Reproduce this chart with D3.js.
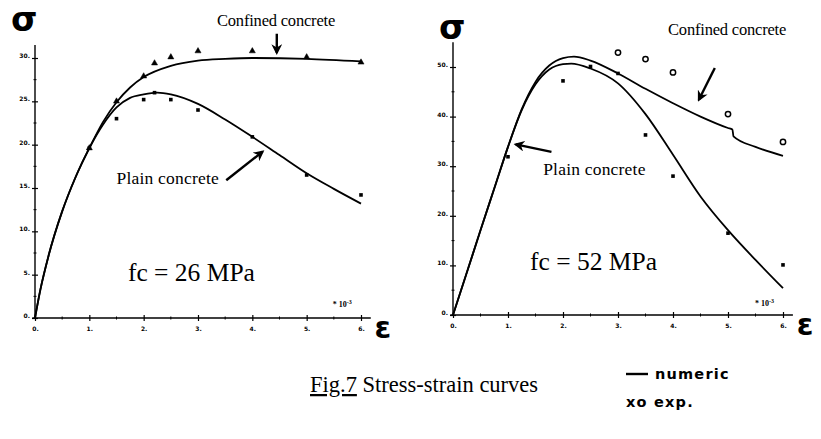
<!DOCTYPE html>
<html>
<head>
<meta charset="utf-8">
<script src="https://cdn.jsdelivr.net/npm/d3@7"></script>
<style>
  body { margin: 0; background: #fff; }
  svg { display: block; }
  .tick text { font-family: 'DejaVu Sans', sans-serif; font-weight: bold; font-size: 6px; }
  .note { font-family: 'Liberation Serif', serif; fill: #000; }
  .hand { font-family: 'DejaVu Sans', sans-serif; font-weight: bold; fill: #000; }
</style>
</head>
<body>
<script>
// strain in 10^-3, stress in MPa
const strainTicks = [0, 1, 2, 3, 4, 5, 6]
const strainMinor = [0.5, 1.5, 2.5, 3.5, 4.5, 5.5]
const stressTicks26 = [0, 5, 10, 15, 20, 25, 30]
const stressTicks52 = [0, 10, 20, 30, 40, 50]

// fc = 26 MPa, numeric curves
const num26Confined = [[0, 0], [0.1, 3.3], [0.25, 7.2], [0.5, 12.3], [0.75, 16.3], [1.0, 19.6], [1.25, 22.6], [1.5, 24.9], [1.75, 26.6], [2.0, 27.8], [2.5, 29.1], [3.0, 29.7], [3.5, 29.9], [4.0, 30.0], [5.0, 29.9], [6.0, 29.6]]
const num26Plain = [[0, 0], [0.1, 3.3], [0.25, 7.2], [0.5, 12.3], [0.75, 16.3], [1.0, 19.6], [1.25, 22.3], [1.5, 24.3], [1.75, 25.4], [2.0, 25.8], [2.25, 26.0], [2.5, 25.8], [3.0, 24.7], [3.5, 22.9], [4.0, 20.9], [4.5, 18.8], [5.0, 16.7], [5.5, 14.9], [6.0, 13.2]]
// fc = 26 MPa, experiments
const exp26Confined = [[1.0, 19.6], [1.5, 25.0], [2.0, 27.9], [2.2, 29.4], [2.5, 30.1], [3.0, 30.8], [4.0, 30.8], [5.0, 30.1], [6.0, 29.5]]
const exp26Plain = [[1.0, 19.6], [1.5, 23.0], [2.0, 25.2], [2.2, 26.0], [2.5, 25.2], [3.0, 24.0], [4.0, 20.9], [5.0, 16.5], [6.0, 14.2]]

// fc = 52 MPa, numeric curves
const num52Confined = [[0, 0], [0.25, 8.5], [0.5, 17.1], [0.75, 25.5], [1.0, 33.9], [1.25, 41.5], [1.5, 47.0], [1.75, 50.3], [2.0, 51.8], [2.2, 52.1], [2.5, 51.3], [3.0, 48.7], [3.5, 45.6], [4.0, 42.7], [4.5, 40.0], [5.0, 37.7], [5.08, 37.4], [5.1, 36.0], [5.5, 33.9], [6.0, 32.1]]
const num52Plain = [[0, 0], [0.25, 8.5], [0.5, 17.1], [0.75, 25.5], [1.0, 33.9], [1.25, 41.3], [1.5, 46.5], [1.75, 49.5], [2.0, 50.6], [2.15, 50.7], [2.5, 49.7], [3.0, 46.7], [3.5, 40.5], [4.0, 32.3], [4.5, 23.9], [5.0, 17.1], [5.5, 11.1], [6.0, 5.4]]
// fc = 52 MPa, experiments
const exp52Confined = [[3.0, 52.9], [3.5, 51.6], [4.0, 48.9], [5.0, 40.5], [6.0, 34.9]]
const exp52Plain = [[1.0, 31.9], [2.0, 47.2], [2.5, 50.1], [3.0, 48.7], [3.5, 36.3], [4.0, 28.0], [5.0, 16.5], [6.0, 10.1]]

const W = 821, H = 439

const svg = d3.select('body').append('svg')
  .attr('width', W)
  .attr('height', H)

svg.append('defs').append('marker')
  .attr('id', 'head')
  .attr('viewBox', '0 0 10 10')
  .attr('refX', 8)
  .attr('refY', 5)
  .attr('markerWidth', 4.5)
  .attr('markerHeight', 4.5)
  .attr('orient', 'auto')
  .append('path')
  .attr('d', 'M0,0 L10,5 L0,10 L3,5 Z')
  .attr('fill', '#000')

function panel (o) {
  let x = d3.scaleLinear().domain([0, 6]).range(o.xRange)
  let y = d3.scaleLinear().domain([0, o.yMax]).range(o.yRange)
  let g = svg.append('g')

  // axes
  let xAxis = g.append('g')
    .attr('transform', `translate(0,${y(0)})`)
    .call(d3.axisBottom(x).tickValues(strainTicks).tickSize(3).tickPadding(6).tickFormat(d => d + '.'))
  xAxis.select('.domain').remove()
  xAxis.selectAll('.tick line').attr('y1', -3).attr('stroke-width', 1.2)

  let yAxis = g.append('g')
    .attr('transform', `translate(${x(0)},0)`)
    .call(d3.axisLeft(y).tickValues(o.yTicks).tickSize(3).tickPadding(2).tickFormat(d => d + '.'))
  yAxis.select('.domain').remove()
  yAxis.selectAll('.tick line').attr('x1', 3).attr('stroke-width', 1.2)
  yAxis.selectAll('.tick text').attr('dy', '-0.1em')

  g.append('line')
    .attr('x1', x(-0.05)).attr('x2', x(6.18))
    .attr('y1', y(0)).attr('y2', y(0))
    .attr('stroke', '#000').attr('stroke-width', 1.4)
  g.append('line')
    .attr('x1', x(0)).attr('x2', x(0))
    .attr('y1', y(-0.1)).attr('y2', y(o.yTop))
    .attr('stroke', '#000').attr('stroke-width', 1.4)

  g.selectAll('.xminor')
    .data(strainMinor)
    .join('line')
    .attr('x1', d => x(d)).attr('x2', d => x(d))
    .attr('y1', y(0) - 1.5).attr('y2', y(0) + 1.5)
    .attr('stroke', '#000')
  g.selectAll('.yminor')
    .data(o.yMinor)
    .join('line')
    .attr('x1', x(0) - 1.5).attr('x2', x(0) + 1.5)
    .attr('y1', d => y(d)).attr('y2', d => y(d))
    .attr('stroke', '#000')

  let line = d3.line()
    .x(d => x(d[0]))
    .y(d => y(d[1]))
    .curve(d3.curveMonotoneX)

  g.selectAll('.curve')
    .data([o.numConfined, o.numPlain])
    .join('path')
    .attr('d', line)
    .attr('fill', 'none')
    .attr('stroke', '#000')
    .attr('stroke-width', 1.8)

  // experiments
  g.selectAll('.expC')
    .data(o.expConfined)
    .join('path')
    .attr('transform', d => `translate(${x(d[0])},${y(d[1])})`)
    .attr('d', d3.symbol(o.confinedSymbol, o.confinedSize))
    .attr('fill', o.confinedFill)
    .attr('stroke', '#000')
    .attr('stroke-width', o.confinedFill === 'none' ? 1.5 : 0.5)

  g.selectAll('.expP')
    .data(o.expPlain)
    .join('path')
    .attr('transform', d => `translate(${x(d[0])},${y(d[1])})`)
    .attr('d', d3.symbol(d3.symbolSquare, 13))
    .attr('fill', '#000')

  // notes
  g.append('text').attr('class', 'note')
    .attr('x', x(o.confinedLabel[0])).attr('y', y(o.confinedLabel[1]))
    .attr('font-size', 16.5).attr('letter-spacing', -0.2)
    .text('Confined concrete')
  g.append('text').attr('class', 'note')
    .attr('x', x(o.plainLabel[0])).attr('y', y(o.plainLabel[1]))
    .attr('font-size', 17.5).attr('letter-spacing', 0.2)
    .text('Plain concrete')
  g.append('text').attr('class', 'note')
    .attr('x', x(o.fcLabel[0])).attr('y', y(o.fcLabel[1]))
    .attr('font-size', 25.5)
    .text(o.fcText)

  let unit = g.append('text').attr('class', 'note')
    .attr('x', x(o.unitLabel[0])).attr('y', y(o.unitLabel[1]))
    .attr('font-size', 8).attr('font-weight', 'bold')
  unit.append('tspan').text('* 10')
  unit.append('tspan').attr('dy', -3).attr('font-size', 6).text('-3')

  g.selectAll('.arrow')
    .data(o.arrows)
    .join('line')
    .attr('x1', d => x(d[0][0])).attr('y1', d => y(d[0][1]))
    .attr('x2', d => x(d[1][0])).attr('y2', d => y(d[1][1]))
    .attr('stroke', '#000')
    .attr('stroke-width', 2.4)
    .attr('marker-end', 'url(#head)')

  g.append('text').attr('class', 'hand')
    .attr('x', o.sigmaPos[0]).attr('y', o.sigmaPos[1])
    .attr('font-size', 34)
    .text('σ')
  g.append('text').attr('class', 'hand')
    .attr('x', x(6.25)).attr('y', y(0) + 20)
    .attr('font-size', 30)
    .text('ε')
}

panel({
  xRange: [35, 361], yRange: [318, 58], yMax: 30, yTop: 31.5,
  yTicks: stressTicks26, yMinor: [2.5, 7.5, 12.5, 17.5, 22.5, 27.5],
  numConfined: num26Confined, numPlain: num26Plain,
  expConfined: exp26Confined, expPlain: exp26Plain,
  confinedSymbol: d3.symbolTriangle, confinedSize: 16, confinedFill: '#000',
  confinedLabel: [3.35, 33.7], plainLabel: [1.5, 15.5],
  fcLabel: [1.71, 4.3], fcText: 'fc = 26 MPa', unitLabel: [5.48, 1.3],
  arrows: [[[4.45, 32.8], [4.45, 30.6]], [[3.52, 15.9], [4.19, 19.2]]],
  sigmaPos: [11, 31]
})

panel({
  xRange: [453, 783], yRange: [315, 67], yMax: 50, yTop: 55,
  yTicks: stressTicks52, yMinor: [5, 15, 25, 35, 45],
  numConfined: num52Confined, numPlain: num52Plain,
  expConfined: exp52Confined, expPlain: exp52Plain,
  confinedSymbol: d3.symbolCircle, confinedSize: 22, confinedFill: 'none',
  confinedLabel: [3.91, 56.5], plainLabel: [1.64, 28.2],
  fcLabel: [1.4, 9.1], fcText: 'fc = 52 MPa', unitLabel: [5.49, 1.8],
  arrows: [[[4.76, 49.8], [4.47, 43.4]], [[1.79, 32.9], [1.14, 34.4]]],
  sigmaPos: [439, 39]
})

// caption and legend
let cap = svg.append('text').attr('class', 'note')
  .attr('x', 310).attr('y', 392)
  .attr('font-size', 22.5)
cap.append('tspan').attr('text-decoration', 'underline').text('Fig.7')
cap.append('tspan').text(' Stress-strain curves')

svg.append('line')
  .attr('x1', 626).attr('x2', 648)
  .attr('y1', 374).attr('y2', 374)
  .attr('stroke', '#000').attr('stroke-width', 2.4)
svg.append('text').attr('class', 'hand')
  .attr('x', 655).attr('y', 379)
  .attr('font-size', 14.5).attr('letter-spacing', 1.2)
  .text('numeric')
svg.append('text').attr('class', 'hand')
  .attr('x', 626).attr('y', 407)
  .attr('font-size', 14.5).attr('letter-spacing', 1.2)
  .text('xo exp.')
</script>
</body>
</html>
